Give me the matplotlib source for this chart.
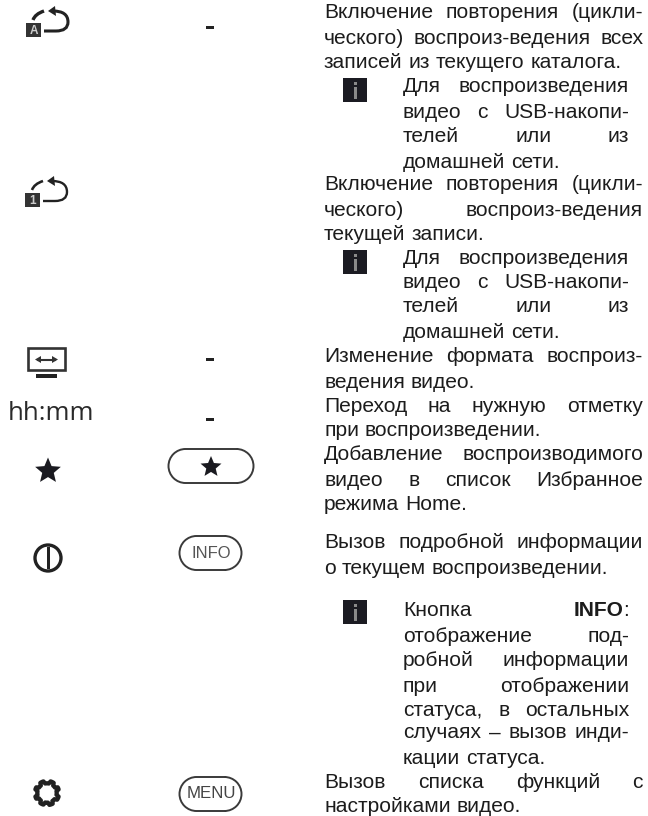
import numpy as np
import matplotlib
matplotlib.use("Agg")
import matplotlib.pyplot as plt
from matplotlib.patches import Rectangle, Circle, Polygon, Arc, PathPatch
from matplotlib.path import Path

# (text, justified, centre y in px)
MAIN_LINES = [
    ("Включение повторения (цикли-", True, 13),
    ("ческого) воспроиз-ведения всех", True, 39),
    ("записей из текущего каталога.", False, 63),
    ("Включение повторения (цикли-", True, 185),
    ("ческого) воспроиз-ведения", True, 210),
    ("текущей записи.", False, 235),
    ("Изменение формата воспроиз-", True, 357),
    ("ведения видео.", False, 382),
    ("Переход на нужную отметку", True, 407),
    ("при воспроизведении.", False, 430),
    ("Добавление воспроизводимого", True, 455),
    ("видео в список Избранное", True, 480),
    ("режима Home.", False, 505),
    ("Вызов подробной информации", True, 543),
    ("о текущем воспроизведении.", False, 569),
    ("Вызов списка функций с", True, 782),
    ("настройками видео.", False, 807),
]
NOTE_LINES = [
    ("Для воспроизведения", True, 86),
    ("видео с USB-накопи-", True, 112),
    ("телей или из", True, 137),
    ("домашней сети.", False, 162),
    ("Для воспроизведения", True, 259),
    ("видео с USB-накопи-", True, 283),
    ("телей или из", True, 307),
    ("домашней сети.", False, 332),
    ("Кнопка *INFO:", True, 610),
    ("отображение под-", True, 636),
    ("робной информации", True, 661),
    ("при отображении", True, 686),
    ("статуса, в остальных", True, 710),
    ("случаях – вызов инди-", True, 733),
    ("кации статуса.", False, 758),
]
DASH_ROWS = [27, 359, 419]
NOTE_ICON_TOPS = [78, 250, 600]
BUTTON_LABELS = ["INFO", "MENU"]
TIME_LABEL = "hh:mm"

FS = 15.1
INK = "#1c1c1c"
fig = plt.figure(figsize=(6.48, 8.16), dpi=100)
ax = fig.add_axes([0, 0, 1, 1])
ax.set_xlim(0, 648)
ax.set_ylim(816, 0)
ax.axis("off")
fig.canvas.draw()
rend = fig.canvas.get_renderer()
plt.rcParams["font.family"] = "Liberation Sans"


def text_width(s, weight):
    t = ax.text(0, 0, s, fontsize=FS, fontweight=weight, family="Liberation Sans")
    w = t.get_window_extent(rend).width
    t.remove()
    return w


def draw_line(line, justified, yc, x0, x1):
    words = line.split(" ")
    base = yc + 5.5
    parts = []
    for w in words:
        if w.startswith("*"):
            core = w[1:].rstrip(":")
            parts.append([(core, "bold"), (w[1 + len(core):], "normal")])
        else:
            parts.append([(w, "normal")])
    widths = [sum(text_width(s, wt) if s else 0 for s, wt in p) for p in parts]
    if justified and len(parts) > 1:
        gap = (x1 - x0 - sum(widths)) / (len(parts) - 1)
    else:
        gap = text_width("a a", "normal") - 2 * text_width("a", "normal")
    x = x0
    for p, wd in zip(parts, widths):
        xx = x
        for s, wt in p:
            if s:
                ax.text(xx, base, s, fontsize=FS, fontweight=wt, color=INK,
                        family="Liberation Sans", ha="left", va="baseline")
                xx += text_width(s, wt)
        x += wd + gap


for s, j, y in MAIN_LINES:
    draw_line(s, j, y, 324, 643)
for s, j, y in NOTE_LINES:
    draw_line(s, j, y, 403, 629)

# note icons
for top in NOTE_ICON_TOPS:
    ax.add_patch(Rectangle((343, top), 24, 24, fc="#1b1b22", ec="none"))
    ax.add_patch(Rectangle((353.5, top + 9), 3, 12, fc="#8a8a8a", ec="none"))
    ax.add_patch(Rectangle((353.5, top + 4), 3, 3, fc="#8a8a8a", ec="none"))

# dashes
for y in DASH_ROWS:
    ax.add_patch(Rectangle((206, y - 1.5), 8, 3, fc="#222222", ec="none"))


def repeat_icon(dx, dy, label, lw):
    ax.add_patch(Rectangle((26 + dx, 23 + dy), 15, 14, fc="#333333", ec="none"))
    ax.text(33.5 + dx, 30.5 + dy, label, color="#cccccc", fontsize=8.5, fontweight="bold",
            ha="center", va="center", family="Liberation Sans")
    verts = [(33 + dx, 20 + dy), (35 + dx, 14 + dy), (44 + dx, 11 + dy)]
    ax.add_patch(PathPatch(Path(verts, [1, 3, 3]), fc="none", ec="#222222", lw=lw * 1.1))
    verts = [(53 + dx, 11 + dy), (68 + dx, 11 + dy), (68 + dx, 22 + dy),
             (68 + dx, 31 + dy), (56 + dx, 31 + dy), (44 + dx, 31 + dy)]
    ax.add_patch(PathPatch(Path(verts, [1, 3, 3, 3, 3, 2]), fc="none", ec="#222222", lw=lw))
    ax.add_patch(Polygon([(48 + dx, 11 + dy), (55 + dx, 6 + dy), (56 + dx, 16 + dy)],
                         fc="#222222", ec="none"))


repeat_icon(0, 0, "A", 2.2)
repeat_icon(-1, 170, "1", 1.7)

# monitor icon
ax.add_patch(Rectangle((27.5, 348), 37, 22, fc="none", ec="#333333", lw=1.9))
ax.add_patch(Rectangle((36, 374), 21, 3.5, fc="#222222", ec="none"))
ax.plot([38, 55], [359.5, 359.5], color="#333333", lw=1.5)
ax.add_patch(Polygon([(35, 359.5), (41, 356), (41, 363)], fc="#333333", ec="none"))
ax.add_patch(Polygon([(58, 359.5), (52, 356), (52, 363)], fc="#333333", ec="none"))

# time label
ax.text(50.5, 413, TIME_LABEL, fontsize=18.5, color="#2a2a2a", family="Open Sans",
        ha="center", va="center")


def star(cx, cy, r):
    ang = np.deg2rad(-90 + 36 * np.arange(10))
    rad = np.where(np.arange(10) % 2 == 0, r, r * 0.45)
    ax.add_patch(Polygon(np.c_[cx + rad * np.cos(ang), cy + rad * np.sin(ang)],
                         fc="#1a1a20", ec="none"))


def pill(x0, x1, y0, y1, lw=1.4):
    h = y1 - y0
    col = "#3a3a3a"
    ax.add_patch(Arc((x0 + h / 2, y0 + h / 2), h, h, theta1=90, theta2=270, ec=col, lw=lw))
    ax.add_patch(Arc((x1 - h / 2, y0 + h / 2), h, h, theta1=-90, theta2=90, ec=col, lw=lw))
    ax.plot([x0 + h / 2, x1 - h / 2], [y0, y0], color=col, lw=lw)
    ax.plot([x0 + h / 2, x1 - h / 2], [y1, y1], color=col, lw=lw)


star(48, 471, 13.5)
star(211, 467, 11)
pill(168.5, 253.5, 449, 483)

# power / info icon
ax.add_patch(Circle((48, 558), 13, fc="none", ec="#222222", lw=2.4))
ax.add_patch(Rectangle((46.5, 547), 3, 22, fc="#222222", ec="none"))
pill(179.5, 241.5, 536, 570)
ax.text(211, 553.5, BUTTON_LABELS[0], fontsize=12, color="#555555", ha="center", va="center",
        family="Liberation Sans")

# gear
n = 8
ang = np.linspace(0, 2 * np.pi, 8 * n, endpoint=False) + np.pi / 8
rad = 9.6 + 2.6 * (np.cos(n * (ang - np.pi / 8)) > 0)
ax.add_patch(Polygon(np.c_[47 + rad * np.cos(ang), 793 + rad * np.sin(ang)],
                     fc="none", ec="#222222", lw=3, joinstyle="round"))
pill(179.5, 241.5, 777, 811)
ax.text(211, 794, BUTTON_LABELS[1], fontsize=12.2, color="#444444", ha="center", va="center",
        family="Liberation Sans")

fig.savefig("out.png", dpi=100)
